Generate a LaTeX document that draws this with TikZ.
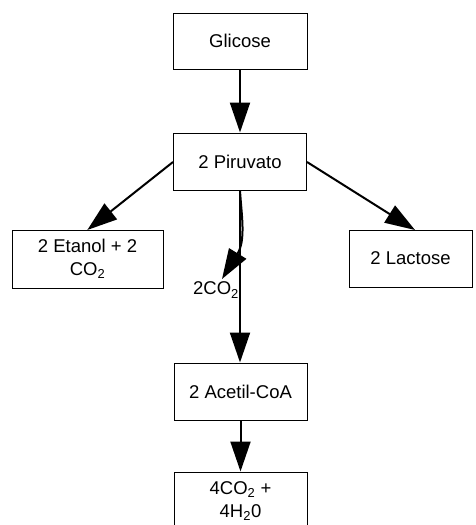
\documentclass[tikz,border=0pt]{standalone}
\usepackage{fontspec}
\setmainfont{Liberation Sans}
\usetikzlibrary{arrows.meta}
\begin{document}
\begin{tikzpicture}[x=1pt,y=-1pt,
  box/.style={draw=black,line width=1pt,fill=white,inner sep=0pt,align=center,
    font=\fontsize{18.5}{23}\selectfont},
  flow/.style={line width=2pt,-{Triangle[length=30pt,width=20pt]}},
  lbl/.style={inner sep=0pt,font=\fontsize{18.5}{23}\selectfont}]
\clip (0,0) rectangle (475,525);
\fill[white] (0,0) rectangle (475,525);
\node[box,minimum width=134pt,minimum height=56pt] (gli) at (240,41) {Glicose};
\node[box,minimum width=133pt,minimum height=57pt] (piru) at (240,161.5) {2 Piruvato};
\node[box,minimum width=151pt,minimum height=58pt] (eta) at (87.5,259) {2 Etanol + 2\\CO\textsubscript{2}};
\node[box,minimum width=123pt,minimum height=57pt] (lac) at (410.5,258.5) {2 Lactose};
\node[box,minimum width=133pt,minimum height=57pt] (ace) at (240.5,391.5) {2 Acetil-CoA};
\node[box,minimum width=133pt,minimum height=58pt] (fin) at (240.5,501) {4CO\textsubscript{2} +\\4H\textsubscript{2}0};
\node[lbl] (co2) at (216,290) {2CO\textsubscript{2}};
\coordinate (co2tip) at (222,279);
\draw[flow] (gli.south) -- (piru.north);
\draw[flow] (173,162) -- (87.3,230);
\draw[flow] (307,162) -- (415,230);
\draw[flow] (piru.south) -- (piru.south |- ace.north);
\draw[flow] (piru.south) .. controls (241.5,215) and (246,240) .. (co2tip);
\draw[flow] (ace.south) -- (ace.south |- fin.north);
\end{tikzpicture}
\end{document}
